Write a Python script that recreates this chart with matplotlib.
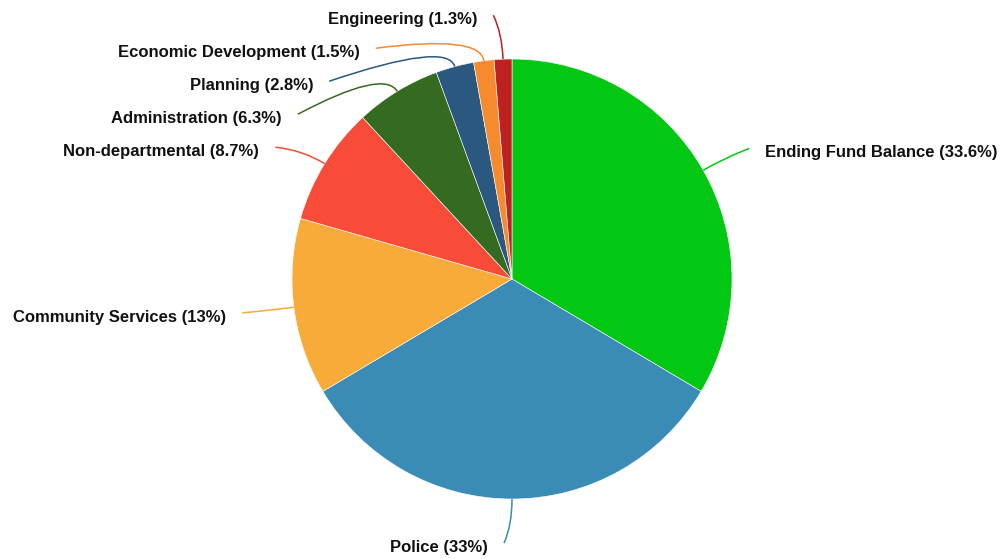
import numpy as np
import matplotlib
matplotlib.use('Agg')
import matplotlib.pyplot as plt
from matplotlib.path import Path
from matplotlib.patches import PathPatch

labels = ['Ending Fund Balance', 'Police', 'Community Services', 'Non-departmental',
          'Administration', 'Planning', 'Economic Development', 'Engineering']
shares = [33.6, 33, 13, 8.7, 6.3, 2.8, 1.5, 1.3]
share_text = ['33.6%', '33%', '13%', '8.7%', '6.3%', '2.8%', '1.5%', '1.3%']
colors = ['#02c814', '#3b8bb7', '#f8ab38', '#f84b38', '#356a21', '#2b587f', '#f58a2e', '#bd2120']

plt.rcParams['font.family'] = ['Liberation Sans', 'DejaVu Sans']

fig = plt.figure(figsize=(10.02, 5.59), dpi=100)
ax = fig.add_axes([0, 0, 1, 1])

ax.pie(shares, colors=colors, startangle=90, counterclock=False, radius=1,
       wedgeprops=dict(edgecolor='white', linewidth=0.4))

# pie() resets the limits, so set them afterwards
ax.set_xlim(-512 / 220, 490 / 220)
ax.set_ylim(-280 / 220, 279 / 220)
ax.set_aspect('equal')
ax.axis('off')

# mid angle of each slice, measured clockwise from top
vals = np.array(shares) / np.sum(shares)
cum = np.cumsum(vals) - vals / 2
ang = cum * 2 * np.pi

r_lab = 1.2
step = 0.15
nx = r_lab * np.sin(ang)
ny = r_lab * np.cos(ang)
side = np.where(nx < 0.02, -1, 1)
nx = np.where(np.abs(nx) < 0.02, 0.0, nx)

# push overlapping labels apart, per side, top to bottom
ly = ny.copy()
for s in (-1, 1):
    idx = [i for i in range(len(labels)) if side[i] == s]
    idx.sort(key=lambda i: -ny[i])
    for a, b in zip(idx, idx[1:]):
        if ly[a] - ly[b] < step:
            ly[b] = ly[a] - step
lx = np.array([side[i] * np.sqrt(max(r_lab ** 2 - ly[i] ** 2, 0)) for i in range(len(labels))])
lx = np.where(np.abs(ly - ny) < 1e-9, nx, lx)
lx = lx + side * 0.036

for i, name in enumerate(labels):
    sx, sy = np.sin(ang[i]), np.cos(ang[i])
    cx, cy = 1.12 * sx, 1.12 * sy
    path = Path([(sx, sy), (cx, cy), (lx[i], ly[i])], [Path.MOVETO, Path.CURVE3, Path.CURVE3])
    ax.add_patch(PathPatch(path, fc='none', ec=colors[i], lw=1.1))
    left = side[i] < 0
    ax.annotate(f'{name} ({share_text[i]})', (lx[i], ly[i]),
                xytext=(-11.5 if left else 11.5, -3), textcoords='offset points',
                ha='right' if left else 'left', va='center',
                fontsize=12, fontweight='bold', color='#111111')

fig.savefig('out.png', dpi=100)
